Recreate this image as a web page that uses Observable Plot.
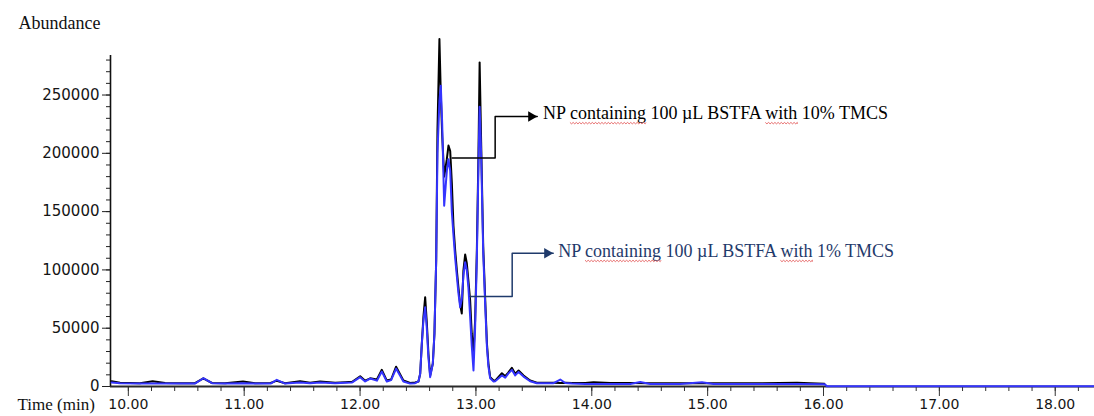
<!DOCTYPE html>
<html>
<head>
<meta charset="utf-8">
<script src="https://cdn.jsdelivr.net/npm/d3@7"></script>
<script src="https://cdn.jsdelivr.net/npm/@observablehq/plot@0.6"></script>
<style>
  body { margin: 0; background: #fff; }
  #chart svg { display: block; }
</style>
</head>
<body>
<div id="chart"></div>
<script>
// GC-MS total ion chromatograms of NP derivatised with BSTFA (10% vs 1% TMCS)

// 100 µL BSTFA with 10% TMCS (black trace)
const timeBlack = [9.856, 9.928, 10.100, 10.210, 10.317, 10.446, 10.575, 10.647, 10.722, 10.835,
  10.990, 11.094, 11.228, 11.281, 11.353, 11.482, 11.569, 11.655, 11.785, 11.871,
  11.932, 12.001, 12.044, 12.087, 12.145, 12.188, 12.231, 12.268, 12.311, 12.374,
  12.432, 12.475, 12.504, 12.519, 12.533, 12.547, 12.562, 12.576, 12.590, 12.605,
  12.628, 12.642, 12.657, 12.668, 12.685, 12.697, 12.709, 12.726, 12.749, 12.763,
  12.778, 12.792, 12.806, 12.821, 12.835, 12.849, 12.864, 12.878, 12.892, 12.907,
  12.921, 12.935, 12.950, 12.964, 12.979, 12.993, 13.008, 13.022, 13.032, 13.045,
  13.063, 13.080, 13.095, 13.108, 13.123, 13.152, 13.166, 13.224, 13.253, 13.279,
  13.310, 13.339, 13.368, 13.411, 13.468, 13.526, 13.598, 13.670, 13.728, 13.771,
  13.829, 13.943, 14.015, 14.159, 14.332, 14.505, 14.764, 14.951, 15.109, 15.455,
  15.772, 15.886, 16.007];
const abundBlack = [4500, 3200, 2800, 4500, 3000, 2800, 2800, 7000, 3000, 2800,
  4300, 2800, 3000, 5000, 2800, 4500, 3200, 4300, 3200, 3700,
  4000, 8800, 5000, 7000, 6000, 14300, 5100, 6000, 17000, 5100,
  3000, 3500, 4300, 11000, 36600, 60000, 76600, 55000, 28300, 9400,
  19700, 45500, 108000, 220000, 298000, 250000, 215000, 180000, 195000, 206700,
  202000, 175000, 138000, 116600, 100000, 85000, 70000, 62600, 99500, 113200,
  106000, 91000, 74000, 45500, 28300, 56600, 116600, 200000, 278000, 210000,
  120000, 75000, 36900, 19700, 8000, 5100, 5100, 11400, 8800, 12000,
  16000, 11000, 13700, 9400, 5100, 3200, 3200, 3200, 3000, 3200,
  3000, 2900, 3600, 2900, 3000, 2800, 2800, 2800, 2800, 2800,
  3300, 2800, 2400];

// 100 µL BSTFA with 1% TMCS (blue trace)
const timeBlue = [9.856, 9.928, 10.100, 10.210, 10.317, 10.446, 10.575, 10.647, 10.722, 10.835,
  10.990, 11.094, 11.228, 11.281, 11.353, 11.482, 11.569, 11.655, 11.785, 11.871,
  11.932, 12.001, 12.044, 12.087, 12.145, 12.188, 12.231, 12.268, 12.311, 12.374,
  12.432, 12.475, 12.504, 12.519, 12.533, 12.547, 12.562, 12.576, 12.590, 12.605,
  12.628, 12.642, 12.657, 12.668, 12.685, 12.697, 12.709, 12.726, 12.749, 12.763,
  12.778, 12.792, 12.806, 12.821, 12.835, 12.849, 12.864, 12.878, 12.892, 12.907,
  12.921, 12.935, 12.950, 12.964, 12.979, 12.993, 13.008, 13.022, 13.032, 13.045,
  13.063, 13.080, 13.095, 13.108, 13.123, 13.152, 13.166, 13.224, 13.253, 13.279,
  13.310, 13.339, 13.368, 13.411, 13.468, 13.526, 13.598, 13.670, 13.728, 13.771,
  13.829, 13.943, 14.159, 14.332, 14.418, 14.505, 14.764, 14.951, 15.050, 15.455,
  15.772, 16.007, 16.030, 18.339];
const abundBlue = [3500, 2800, 2500, 2500, 2500, 2500, 2500, 7100, 2800, 2500,
  2800, 2500, 2500, 5700, 2500, 3500, 2800, 3500, 2800, 3200,
  3500, 8000, 4300, 6800, 5000, 12800, 4300, 5500, 15400, 4300,
  2500, 2800, 4300, 11000, 36600, 56600, 68000, 50000, 25000, 8000,
  19700, 45500, 108000, 200000, 245000, 258000, 225000, 155000, 185000, 195000,
  185000, 150000, 130000, 110000, 95000, 80000, 68000, 75000, 95000, 106600,
  100000, 85000, 60000, 35000, 13700, 50000, 110000, 190000, 240000, 200000,
  115000, 70000, 34000, 17000, 7000, 4300, 4500, 9500, 7500, 11000,
  14300, 9500, 12500, 8500, 4500, 2800, 2800, 2800, 6000, 3000,
  2500, 2200, 2200, 2200, 3800, 2200, 2200, 3600, 2200, 2200,
  2200, 2000, 300, 300];

// axis ticks
const majorX = [10, 11, 12, 13, 14, 15, 16, 17, 18];
const majorY = [0, 50000, 100000, 150000, 200000, 250000];
const minorX = d3.range(10, 18.3, 0.2).map(d => +d.toFixed(1));
const minorY = d3.range(0, 290000, 10000);

// annotation callouts: elbow connector (time, abundance) and label
const labels = ["NP containing 100 µL BSTFA with 10% TMCS", "NP containing 100 µL BSTFA with 1% TMCS"];
const labelColors = ["#000000", "#1f3a6b"];
const connectorTime = [[12.795, 13.166, 13.166, 13.529], [12.950, 13.313, 13.313, 13.667]];
const connectorAbund = [[196000, 196000, 231500, 231500], [77200, 77200, 114300, 114300]];
const labelTime = [13.58, 13.71];
const labelAbund = [234000, 115800];
const flaggedWords = ["containing", "with"];

const xDomain = [9.846, 18.339];

const toRows = (ts, vs) => ts.map((t, i) => ({t, v: vs[i]}));
const black = toRows(timeBlack, abundBlack);
const blue = toRows(timeBlue, abundBlue);

const connectors = labels.flatMap((name, k) =>
  connectorTime[k].map((t, i) => ({name, t, v: connectorAbund[k][i], color: labelColors[k]})));
const tips = labels.map((name, k) => ({name, t: connectorTime[k][3], v: connectorAbund[k][3], color: labelColors[k]}));
const notes = labels.map((name, k) => ({name, t: labelTime[k], v: labelAbund[k], color: labelColors[k]}));

const chart = Plot.plot({
  width: 1094,
  height: 416,
  marginLeft: 110,
  marginRight: 0,
  marginTop: 55,
  marginBottom: 30,
  style: {fontFamily: "DejaVu Sans", background: "#fff", color: "#151515"},
  x: {domain: xDomain},
  y: {domain: [0, 283900]},
  marks: [
    Plot.axisX({ticks: minorX, tickSize: 5, tickFormat: () => "", label: null, stroke: "#333"}),
    Plot.axisX({ticks: majorX, tickSize: 10, tickPadding: 3, tickFormat: d => d.toFixed(2), fontSize: 14, label: null, stroke: "#333"}),
    Plot.axisY({ticks: minorY, tickSize: 4, tickFormat: () => "", label: null, stroke: "#222"}),
    Plot.axisY({ticks: majorY, tickSize: 8, tickPadding: 3, tickFormat: d => String(d), fontSize: 15, label: null, stroke: "#222"}),
    Plot.ruleY([0], {stroke: "#2a2a2a", strokeWidth: 2}),
    Plot.ruleX([xDomain[0]], {stroke: "#111", strokeWidth: 1.6}),
    Plot.line(black, {x: "t", y: "v", stroke: "#000", strokeWidth: 2}),
    Plot.line(blue, {x: "t", y: "v", stroke: "#3434ff", strokeWidth: 2}),
    Plot.line(connectors, {x: "t", y: "v", z: "name", stroke: "color", strokeWidth: 1.5}),
    Plot.dot(tips, {x: "t", y: "v", fill: "color", stroke: null, symbol: "triangle", r: 3.9, rotate: 90, dx: -6}),
    Plot.text(notes, {x: "t", y: "v", text: "name", fill: "color", textAnchor: "start", fontFamily: "Liberation Serif", fontSize: 18}),
    Plot.text(["Abundance"], {frameAnchor: "top-left", text: d => d, textAnchor: "start", dx: -92, dy: -39, fontFamily: "Liberation Serif", fontSize: 18, fill: "#111"}),
    Plot.text(["Time (min)"], {frameAnchor: "bottom-left", text: d => d, textAnchor: "start", dx: -93, dy: 23, fontFamily: "Liberation Serif", fontSize: 17, fill: "#111"})
  ]
});

document.getElementById("chart").appendChild(chart);

// spell-check style red wavy underline beneath some words of the callouts
const svgNS = "http://www.w3.org/2000/svg";
for (const node of chart.querySelectorAll("text")) {
  const s = node.textContent;
  if (!s.startsWith("NP containing")) continue;
  for (const word of flaggedWords) {
    const i = s.indexOf(word);
    if (i < 0) continue;
    const a = node.getStartPositionOfChar(i);
    const b = node.getEndPositionOfChar(i + word.length - 1);
    const y0 = a.y + 3;
    let d = `M${a.x},${y0}`;
    for (let x = a.x, k = 0; x < b.x; x += 1.6, k++) {
      d += `L${Math.min(x + 1.6, b.x)},${y0 + (k % 2 ? 0 : 1.4)}`;
    }
    const p = document.createElementNS(svgNS, "path");
    p.setAttribute("d", d);
    p.setAttribute("fill", "none");
    p.setAttribute("stroke", "#e04848");
    p.setAttribute("stroke-width", "0.8");
    if (node.getAttribute("transform")) p.setAttribute("transform", node.getAttribute("transform"));
    node.parentNode.appendChild(p);
  }
}
</script>
</body>
</html>
